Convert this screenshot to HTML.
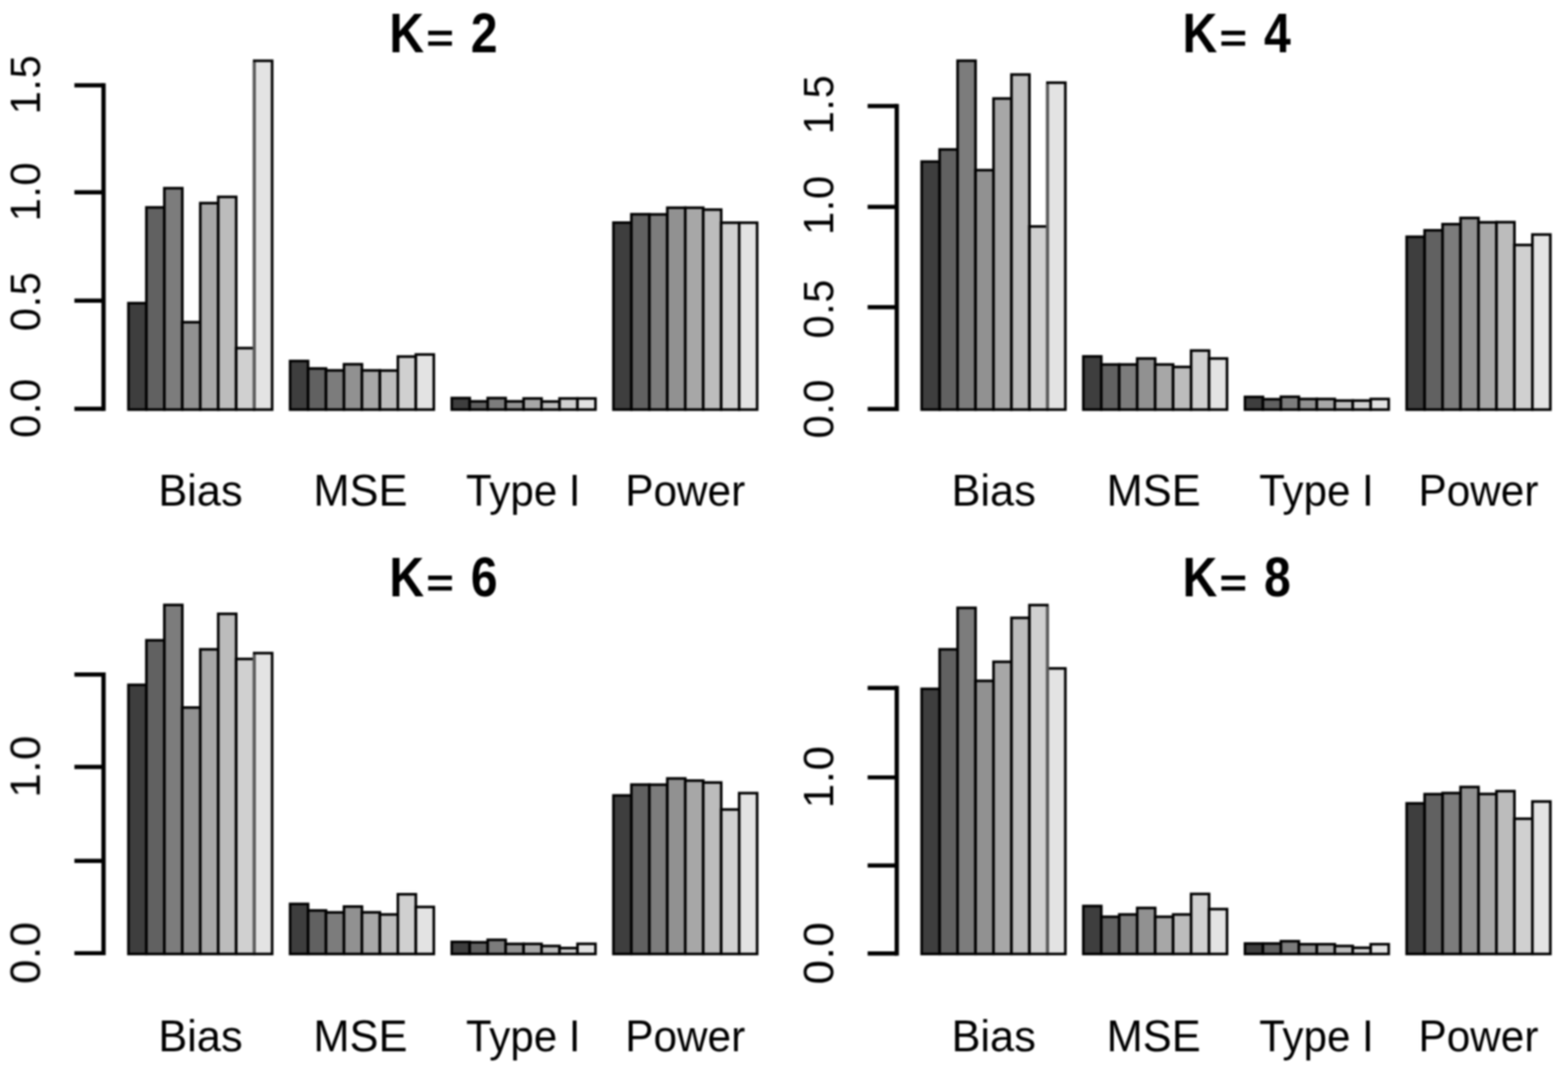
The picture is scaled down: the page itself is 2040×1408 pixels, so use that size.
<!DOCTYPE html>
<html lang="en"><head><meta charset="utf-8"><title>Barplots K=2,4,6,8</title>
<style>html,body{margin:0;padding:0;background:#fff}body{width:2040px;height:1408px;overflow:hidden}svg{display:block}text{font-family:"Liberation Sans",sans-serif;fill:#000}.t{font-size:72px;font-weight:bold;white-space:pre}.e{font-size:52px}.a{font-size:57px;text-anchor:middle}.k{letter-spacing:-0.8px}.m{letter-spacing:0.8px}.b{stroke:#000;stroke-width:3.4}.l{stroke:#000;fill:none}</style></head><body>
<svg width="2040" height="1408" viewBox="0 0 2040 1408" role="img" aria-label="Bar charts of Bias, MSE, Type I and Power for K = 2, 4, 6, 8">
<defs><filter id="fs" color-interpolation-filters="sRGB" filterUnits="userSpaceOnUse" x="0" y="0" width="2040" height="1408"><feGaussianBlur stdDeviation="0.8"/></filter><filter id="ft" color-interpolation-filters="sRGB" filterUnits="userSpaceOnUse" x="0" y="0" width="2040" height="1408"><feGaussianBlur stdDeviation="0.8"/></filter></defs>
<rect width="2040" height="1408" fill="#fff"/>
<g>
<g filter="url(#fs)">
<path class="l" stroke-width="5.6" d="M134.7 108.3V534.7"/>
<path class="l" stroke-width="5.4" d="M96.8 532H134.7M96.8 391.3H134.7M96.8 250.3H134.7M96.8 111H134.7"/>
<rect class="b" x="167.1" y="394.5" width="23.37" height="138.5" fill="#3E3E3E"/>
<rect class="b" x="190.47" y="269.9" width="23.37" height="263.1" fill="#616161"/>
<rect class="b" x="213.84" y="244.9" width="23.37" height="288.1" fill="#7C7C7C"/>
<rect class="b" x="237.21" y="419.3" width="23.37" height="113.7" fill="#919191"/>
<rect class="b" x="260.58" y="264.3" width="23.37" height="268.7" fill="#A7A7A7"/>
<rect class="b" x="283.95" y="256.2" width="23.37" height="276.8" fill="#BCBCBC"/>
<rect class="b" x="307.32" y="453" width="23.37" height="80" fill="#D0D0D0"/>
<rect class="b" x="330.69" y="79.1" width="23.37" height="453.9" fill="#E3E3E3"/>
<rect class="b" x="377.43" y="469.8" width="23.37" height="63.2" fill="#3E3E3E"/>
<rect class="b" x="400.8" y="479.5" width="23.37" height="53.5" fill="#616161"/>
<rect class="b" x="424.17" y="482" width="23.37" height="51" fill="#7C7C7C"/>
<rect class="b" x="447.54" y="474" width="23.37" height="59" fill="#919191"/>
<rect class="b" x="470.91" y="482" width="23.37" height="51" fill="#A7A7A7"/>
<rect class="b" x="494.28" y="482.2" width="23.37" height="50.8" fill="#BCBCBC"/>
<rect class="b" x="517.65" y="464" width="23.37" height="69" fill="#D0D0D0"/>
<rect class="b" x="541.02" y="461.3" width="23.37" height="71.7" fill="#E3E3E3"/>
<rect class="b" x="587.76" y="518" width="23.37" height="15" fill="#3E3E3E"/>
<rect class="b" x="611.13" y="522.3" width="23.37" height="10.7" fill="#616161"/>
<rect class="b" x="634.5" y="518" width="23.37" height="15" fill="#7C7C7C"/>
<rect class="b" x="657.87" y="522.3" width="23.37" height="10.7" fill="#919191"/>
<rect class="b" x="681.24" y="518.5" width="23.37" height="14.5" fill="#A7A7A7"/>
<rect class="b" x="704.61" y="522.5" width="23.37" height="10.5" fill="#BCBCBC"/>
<rect class="b" x="727.98" y="518.5" width="23.37" height="14.5" fill="#D0D0D0"/>
<rect class="b" x="751.35" y="518.5" width="23.37" height="14.5" fill="#E3E3E3"/>
<rect class="b" x="798.09" y="289.7" width="23.37" height="243.3" fill="#3E3E3E"/>
<rect class="b" x="821.46" y="278.8" width="23.37" height="254.2" fill="#616161"/>
<rect class="b" x="844.83" y="279" width="23.37" height="254" fill="#7C7C7C"/>
<rect class="b" x="868.2" y="270.3" width="23.37" height="262.7" fill="#919191"/>
<rect class="b" x="891.57" y="270.3" width="23.37" height="262.7" fill="#A7A7A7"/>
<rect class="b" x="914.94" y="272.8" width="23.37" height="260.2" fill="#BCBCBC"/>
<rect class="b" x="938.31" y="289.8" width="23.37" height="243.2" fill="#D0D0D0"/>
<rect class="b" x="961.68" y="289.8" width="23.37" height="243.2" fill="#E3E3E3"/>
<path class="l" style="stroke:#5a5a5a" stroke-width="4" d="M330.69 80.8V531.3"/>
</g>
<g filter="url(#ft)">
<text class="t" xml:space="preserve" transform="translate(0 67.6) scale(0.87 1)"><tspan x="582.18" y="0">K</tspan><tspan class="e" x="637.36" y="-0.2" textLength="41.38" lengthAdjust="spacingAndGlyphs">=</tspan><tspan x="678.16 704.02" y="0"> 2</tspan></text>
<text class="a m" transform="translate(52 531) rotate(-90) scale(0.95 0.965)">0.0</text>
<text class="a m" transform="translate(52 392.2) rotate(-90) scale(0.95 0.965)">0.5</text>
<text class="a m" transform="translate(52 249.3) rotate(-90) scale(0.95 0.965)">1.0</text>
<text class="a m" transform="translate(52 110) rotate(-90) scale(0.95 0.965)">1.5</text>
<text class="a" transform="translate(260.8 657.6) scale(0.99 1)">Bias</text>
<text class="a" transform="translate(468.9 657.6) scale(0.99 1)">MSE</text>
<text class="a" transform="translate(680.7 657.6) scale(0.96 1)">Type I</text>
<text class="a" transform="translate(891.5 657.6) scale(0.965 1)">Power</text>
</g>
</g>
<g>
<g filter="url(#fs)">
<path class="l" stroke-width="5.6" d="M1166.7 135.3V534.9"/>
<path class="l" stroke-width="5.4" d="M1128.8 532.2H1166.7M1128.8 399.8H1166.7M1128.8 269.3H1166.7M1128.8 138H1166.7"/>
<rect class="b" x="1199.1" y="210.3" width="23.37" height="322.7" fill="#3E3E3E"/>
<rect class="b" x="1222.47" y="194.5" width="23.37" height="338.5" fill="#616161"/>
<rect class="b" x="1245.84" y="79" width="23.37" height="454" fill="#7C7C7C"/>
<rect class="b" x="1269.21" y="221.4" width="23.37" height="311.6" fill="#919191"/>
<rect class="b" x="1292.58" y="128.2" width="23.37" height="404.8" fill="#A7A7A7"/>
<rect class="b" x="1315.95" y="97" width="23.37" height="436" fill="#BCBCBC"/>
<rect class="b" x="1339.32" y="294.7" width="23.37" height="238.3" fill="#D0D0D0"/>
<rect class="b" x="1362.69" y="107.6" width="23.37" height="425.4" fill="#E3E3E3"/>
<rect class="b" x="1409.43" y="463.8" width="23.37" height="69.2" fill="#3E3E3E"/>
<rect class="b" x="1432.8" y="474.3" width="23.37" height="58.7" fill="#616161"/>
<rect class="b" x="1456.17" y="474.3" width="23.37" height="58.7" fill="#7C7C7C"/>
<rect class="b" x="1479.54" y="466.5" width="23.37" height="66.5" fill="#919191"/>
<rect class="b" x="1502.91" y="474.3" width="23.37" height="58.7" fill="#A7A7A7"/>
<rect class="b" x="1526.28" y="477.5" width="23.37" height="55.5" fill="#BCBCBC"/>
<rect class="b" x="1549.65" y="456.2" width="23.37" height="76.8" fill="#D0D0D0"/>
<rect class="b" x="1573.02" y="466.5" width="23.37" height="66.5" fill="#E3E3E3"/>
<rect class="b" x="1619.76" y="516.5" width="23.37" height="16.5" fill="#3E3E3E"/>
<rect class="b" x="1643.13" y="519.5" width="23.37" height="13.5" fill="#616161"/>
<rect class="b" x="1666.5" y="516.3" width="23.37" height="16.7" fill="#7C7C7C"/>
<rect class="b" x="1689.87" y="519.2" width="23.37" height="13.8" fill="#919191"/>
<rect class="b" x="1713.24" y="519.2" width="23.37" height="13.8" fill="#A7A7A7"/>
<rect class="b" x="1736.61" y="521.3" width="23.37" height="11.7" fill="#BCBCBC"/>
<rect class="b" x="1759.98" y="521.3" width="23.37" height="11.7" fill="#D0D0D0"/>
<rect class="b" x="1783.35" y="519.2" width="23.37" height="13.8" fill="#E3E3E3"/>
<rect class="b" x="1830.09" y="308.1" width="23.37" height="224.9" fill="#3E3E3E"/>
<rect class="b" x="1853.46" y="299.7" width="23.37" height="233.3" fill="#616161"/>
<rect class="b" x="1876.83" y="291.7" width="23.37" height="241.3" fill="#7C7C7C"/>
<rect class="b" x="1900.2" y="283.6" width="23.37" height="249.4" fill="#919191"/>
<rect class="b" x="1923.57" y="289.3" width="23.37" height="243.7" fill="#A7A7A7"/>
<rect class="b" x="1946.94" y="289.1" width="23.37" height="243.9" fill="#BCBCBC"/>
<rect class="b" x="1970.31" y="318.8" width="23.37" height="214.2" fill="#D0D0D0"/>
<rect class="b" x="1993.68" y="305.2" width="23.37" height="227.8" fill="#E3E3E3"/>
<path class="l" style="stroke:#5a5a5a" stroke-width="4" d="M1362.69 109.3V531.3"/>
</g>
<g filter="url(#ft)">
<text class="t" xml:space="preserve" transform="translate(1032 67.6) scale(0.87 1)"><tspan x="582.18" y="0">K</tspan><tspan class="e" x="637.36" y="-0.2" textLength="41.38" lengthAdjust="spacingAndGlyphs">=</tspan><tspan x="678.16 704.02" y="0"> 4</tspan></text>
<text class="a m" transform="translate(1084 531.8) rotate(-90) scale(0.95 0.965)">0.0</text>
<text class="a m" transform="translate(1084 401.8) rotate(-90) scale(0.95 0.965)">0.5</text>
<text class="a m" transform="translate(1084 267) rotate(-90) scale(0.95 0.965)">1.0</text>
<text class="a m" transform="translate(1084 136) rotate(-90) scale(0.95 0.965)">1.5</text>
<text class="a" transform="translate(1292.8 657.6) scale(0.99 1)">Bias</text>
<text class="a" transform="translate(1500.9 657.6) scale(0.99 1)">MSE</text>
<text class="a" transform="translate(1712.7 657.6) scale(0.96 1)">Type I</text>
<text class="a" transform="translate(1923.5 657.6) scale(0.965 1)">Power</text>
</g>
</g>
<g>
<g filter="url(#fs)">
<path class="l" stroke-width="5.6" d="M134.7 875V1243.1"/>
<path class="l" stroke-width="5.4" d="M96.8 1240.4H134.7M96.8 1120.2H134.7M96.8 998H134.7M96.8 877.7H134.7"/>
<rect class="b" x="167.1" y="891.2" width="23.37" height="350.2" fill="#3E3E3E"/>
<rect class="b" x="190.47" y="833.2" width="23.37" height="408.2" fill="#616161"/>
<rect class="b" x="213.84" y="787.2" width="23.37" height="454.2" fill="#7C7C7C"/>
<rect class="b" x="237.21" y="920.7" width="23.37" height="320.7" fill="#919191"/>
<rect class="b" x="260.58" y="845" width="23.37" height="396.4" fill="#A7A7A7"/>
<rect class="b" x="283.95" y="798.8" width="23.37" height="442.6" fill="#BCBCBC"/>
<rect class="b" x="307.32" y="857.5" width="23.37" height="383.9" fill="#D0D0D0"/>
<rect class="b" x="330.69" y="849.9" width="23.37" height="391.5" fill="#E3E3E3"/>
<rect class="b" x="377.43" y="1176.3" width="23.37" height="65.1" fill="#3E3E3E"/>
<rect class="b" x="400.8" y="1184.8" width="23.37" height="56.6" fill="#616161"/>
<rect class="b" x="424.17" y="1187.3" width="23.37" height="54.1" fill="#7C7C7C"/>
<rect class="b" x="447.54" y="1179.7" width="23.37" height="61.7" fill="#919191"/>
<rect class="b" x="470.91" y="1187.2" width="23.37" height="54.2" fill="#A7A7A7"/>
<rect class="b" x="494.28" y="1190" width="23.37" height="51.4" fill="#BCBCBC"/>
<rect class="b" x="517.65" y="1163.7" width="23.37" height="77.7" fill="#D0D0D0"/>
<rect class="b" x="541.02" y="1180.2" width="23.37" height="61.2" fill="#E3E3E3"/>
<rect class="b" x="587.76" y="1225.7" width="23.37" height="15.7" fill="#3E3E3E"/>
<rect class="b" x="611.13" y="1226.2" width="23.37" height="15.2" fill="#616161"/>
<rect class="b" x="634.5" y="1223" width="23.37" height="18.4" fill="#7C7C7C"/>
<rect class="b" x="657.87" y="1228.3" width="23.37" height="13.1" fill="#919191"/>
<rect class="b" x="681.24" y="1228.3" width="23.37" height="13.1" fill="#A7A7A7"/>
<rect class="b" x="704.61" y="1231" width="23.37" height="10.4" fill="#BCBCBC"/>
<rect class="b" x="727.98" y="1233.7" width="23.37" height="7.7" fill="#D0D0D0"/>
<rect class="b" x="751.35" y="1228.2" width="23.37" height="13.2" fill="#E3E3E3"/>
<rect class="b" x="798.09" y="1035.1" width="23.37" height="206.3" fill="#3E3E3E"/>
<rect class="b" x="821.46" y="1021" width="23.37" height="220.4" fill="#616161"/>
<rect class="b" x="844.83" y="1021.1" width="23.37" height="220.3" fill="#7C7C7C"/>
<rect class="b" x="868.2" y="1013" width="23.37" height="228.4" fill="#919191"/>
<rect class="b" x="891.57" y="1015.8" width="23.37" height="225.6" fill="#A7A7A7"/>
<rect class="b" x="914.94" y="1018.3" width="23.37" height="223.1" fill="#BCBCBC"/>
<rect class="b" x="938.31" y="1053.4" width="23.37" height="188" fill="#D0D0D0"/>
<rect class="b" x="961.68" y="1032.1" width="23.37" height="209.3" fill="#E3E3E3"/>
<path class="l" style="stroke:#5a5a5a" stroke-width="4" d="M330.69 851.6V1239.7"/>
</g>
<g filter="url(#ft)">
<text class="t" xml:space="preserve" transform="translate(0 776.1) scale(0.87 1)"><tspan x="582.18" y="0">K</tspan><tspan class="e" x="637.36" y="-0.2" textLength="41.38" lengthAdjust="spacingAndGlyphs">=</tspan><tspan x="678.16 704.02" y="0"> 6</tspan></text>
<text class="a m" transform="translate(52 1239.7) rotate(-90) scale(1 0.965)">0.0</text>
<text class="a m" transform="translate(52 997.3) rotate(-90) scale(1 0.965)">1.0</text>
<text class="a" transform="translate(260.8 1367.5) scale(0.99 1)">Bias</text>
<text class="a" transform="translate(468.9 1367.5) scale(0.99 1)">MSE</text>
<text class="a" transform="translate(680.7 1367.5) scale(0.96 1)">Type I</text>
<text class="a" transform="translate(891.5 1367.5) scale(0.965 1)">Power</text>
</g>
</g>
<g>
<g filter="url(#fs)">
<path class="l" stroke-width="5.6" d="M1166.7 892.5V1243.5"/>
<path class="l" stroke-width="5.4" d="M1128.8 1240.8H1166.7M1128.8 1126.3H1166.7M1128.8 1011.6H1166.7M1128.8 895.2H1166.7"/>
<rect class="b" x="1199.1" y="896.4" width="23.37" height="345" fill="#3E3E3E"/>
<rect class="b" x="1222.47" y="845" width="23.37" height="396.4" fill="#616161"/>
<rect class="b" x="1245.84" y="791" width="23.37" height="450.4" fill="#7C7C7C"/>
<rect class="b" x="1269.21" y="886" width="23.37" height="355.4" fill="#919191"/>
<rect class="b" x="1292.58" y="861.2" width="23.37" height="380.2" fill="#A7A7A7"/>
<rect class="b" x="1315.95" y="804" width="23.37" height="437.4" fill="#BCBCBC"/>
<rect class="b" x="1339.32" y="787.4" width="23.37" height="454" fill="#D0D0D0"/>
<rect class="b" x="1362.69" y="869.8" width="23.37" height="371.6" fill="#E3E3E3"/>
<rect class="b" x="1409.43" y="1179" width="23.37" height="62.4" fill="#3E3E3E"/>
<rect class="b" x="1432.8" y="1193" width="23.37" height="48.4" fill="#616161"/>
<rect class="b" x="1456.17" y="1190" width="23.37" height="51.4" fill="#7C7C7C"/>
<rect class="b" x="1479.54" y="1181.5" width="23.37" height="59.9" fill="#919191"/>
<rect class="b" x="1502.91" y="1193" width="23.37" height="48.4" fill="#A7A7A7"/>
<rect class="b" x="1526.28" y="1190" width="23.37" height="51.4" fill="#BCBCBC"/>
<rect class="b" x="1549.65" y="1163.3" width="23.37" height="78.1" fill="#D0D0D0"/>
<rect class="b" x="1573.02" y="1183" width="23.37" height="58.4" fill="#E3E3E3"/>
<rect class="b" x="1619.76" y="1227.8" width="23.37" height="13.6" fill="#3E3E3E"/>
<rect class="b" x="1643.13" y="1227.8" width="23.37" height="13.6" fill="#616161"/>
<rect class="b" x="1666.5" y="1224.8" width="23.37" height="16.6" fill="#7C7C7C"/>
<rect class="b" x="1689.87" y="1228.7" width="23.37" height="12.7" fill="#919191"/>
<rect class="b" x="1713.24" y="1228.7" width="23.37" height="12.7" fill="#A7A7A7"/>
<rect class="b" x="1736.61" y="1231" width="23.37" height="10.4" fill="#BCBCBC"/>
<rect class="b" x="1759.98" y="1233.3" width="23.37" height="8.1" fill="#D0D0D0"/>
<rect class="b" x="1783.35" y="1228.7" width="23.37" height="12.7" fill="#E3E3E3"/>
<rect class="b" x="1830.09" y="1045.4" width="23.37" height="196" fill="#3E3E3E"/>
<rect class="b" x="1853.46" y="1033.4" width="23.37" height="208" fill="#616161"/>
<rect class="b" x="1876.83" y="1032" width="23.37" height="209.4" fill="#7C7C7C"/>
<rect class="b" x="1900.2" y="1024.1" width="23.37" height="217.3" fill="#919191"/>
<rect class="b" x="1923.57" y="1033.2" width="23.37" height="208.2" fill="#A7A7A7"/>
<rect class="b" x="1946.94" y="1029.5" width="23.37" height="211.9" fill="#BCBCBC"/>
<rect class="b" x="1970.31" y="1065.4" width="23.37" height="176" fill="#D0D0D0"/>
<rect class="b" x="1993.68" y="1043" width="23.37" height="198.4" fill="#E3E3E3"/>
<path class="l" style="stroke:#5a5a5a" stroke-width="4" d="M1362.69 789.1V1239.7"/>
</g>
<g filter="url(#ft)">
<text class="t" xml:space="preserve" transform="translate(1032 776.1) scale(0.87 1)"><tspan x="582.18" y="0">K</tspan><tspan class="e" x="637.36" y="-0.2" textLength="41.38" lengthAdjust="spacingAndGlyphs">=</tspan><tspan x="678.16 704.02" y="0"> 8</tspan></text>
<text class="a m" transform="translate(1084 1240.1) rotate(-90) scale(1 0.965)">0.0</text>
<text class="a m" transform="translate(1084 1010.9) rotate(-90) scale(1 0.965)">1.0</text>
<text class="a" transform="translate(1292.8 1367.5) scale(0.99 1)">Bias</text>
<text class="a" transform="translate(1500.9 1367.5) scale(0.99 1)">MSE</text>
<text class="a" transform="translate(1712.7 1367.5) scale(0.96 1)">Type I</text>
<text class="a" transform="translate(1923.5 1367.5) scale(0.965 1)">Power</text>
</g>
</g>
</svg></body></html>
